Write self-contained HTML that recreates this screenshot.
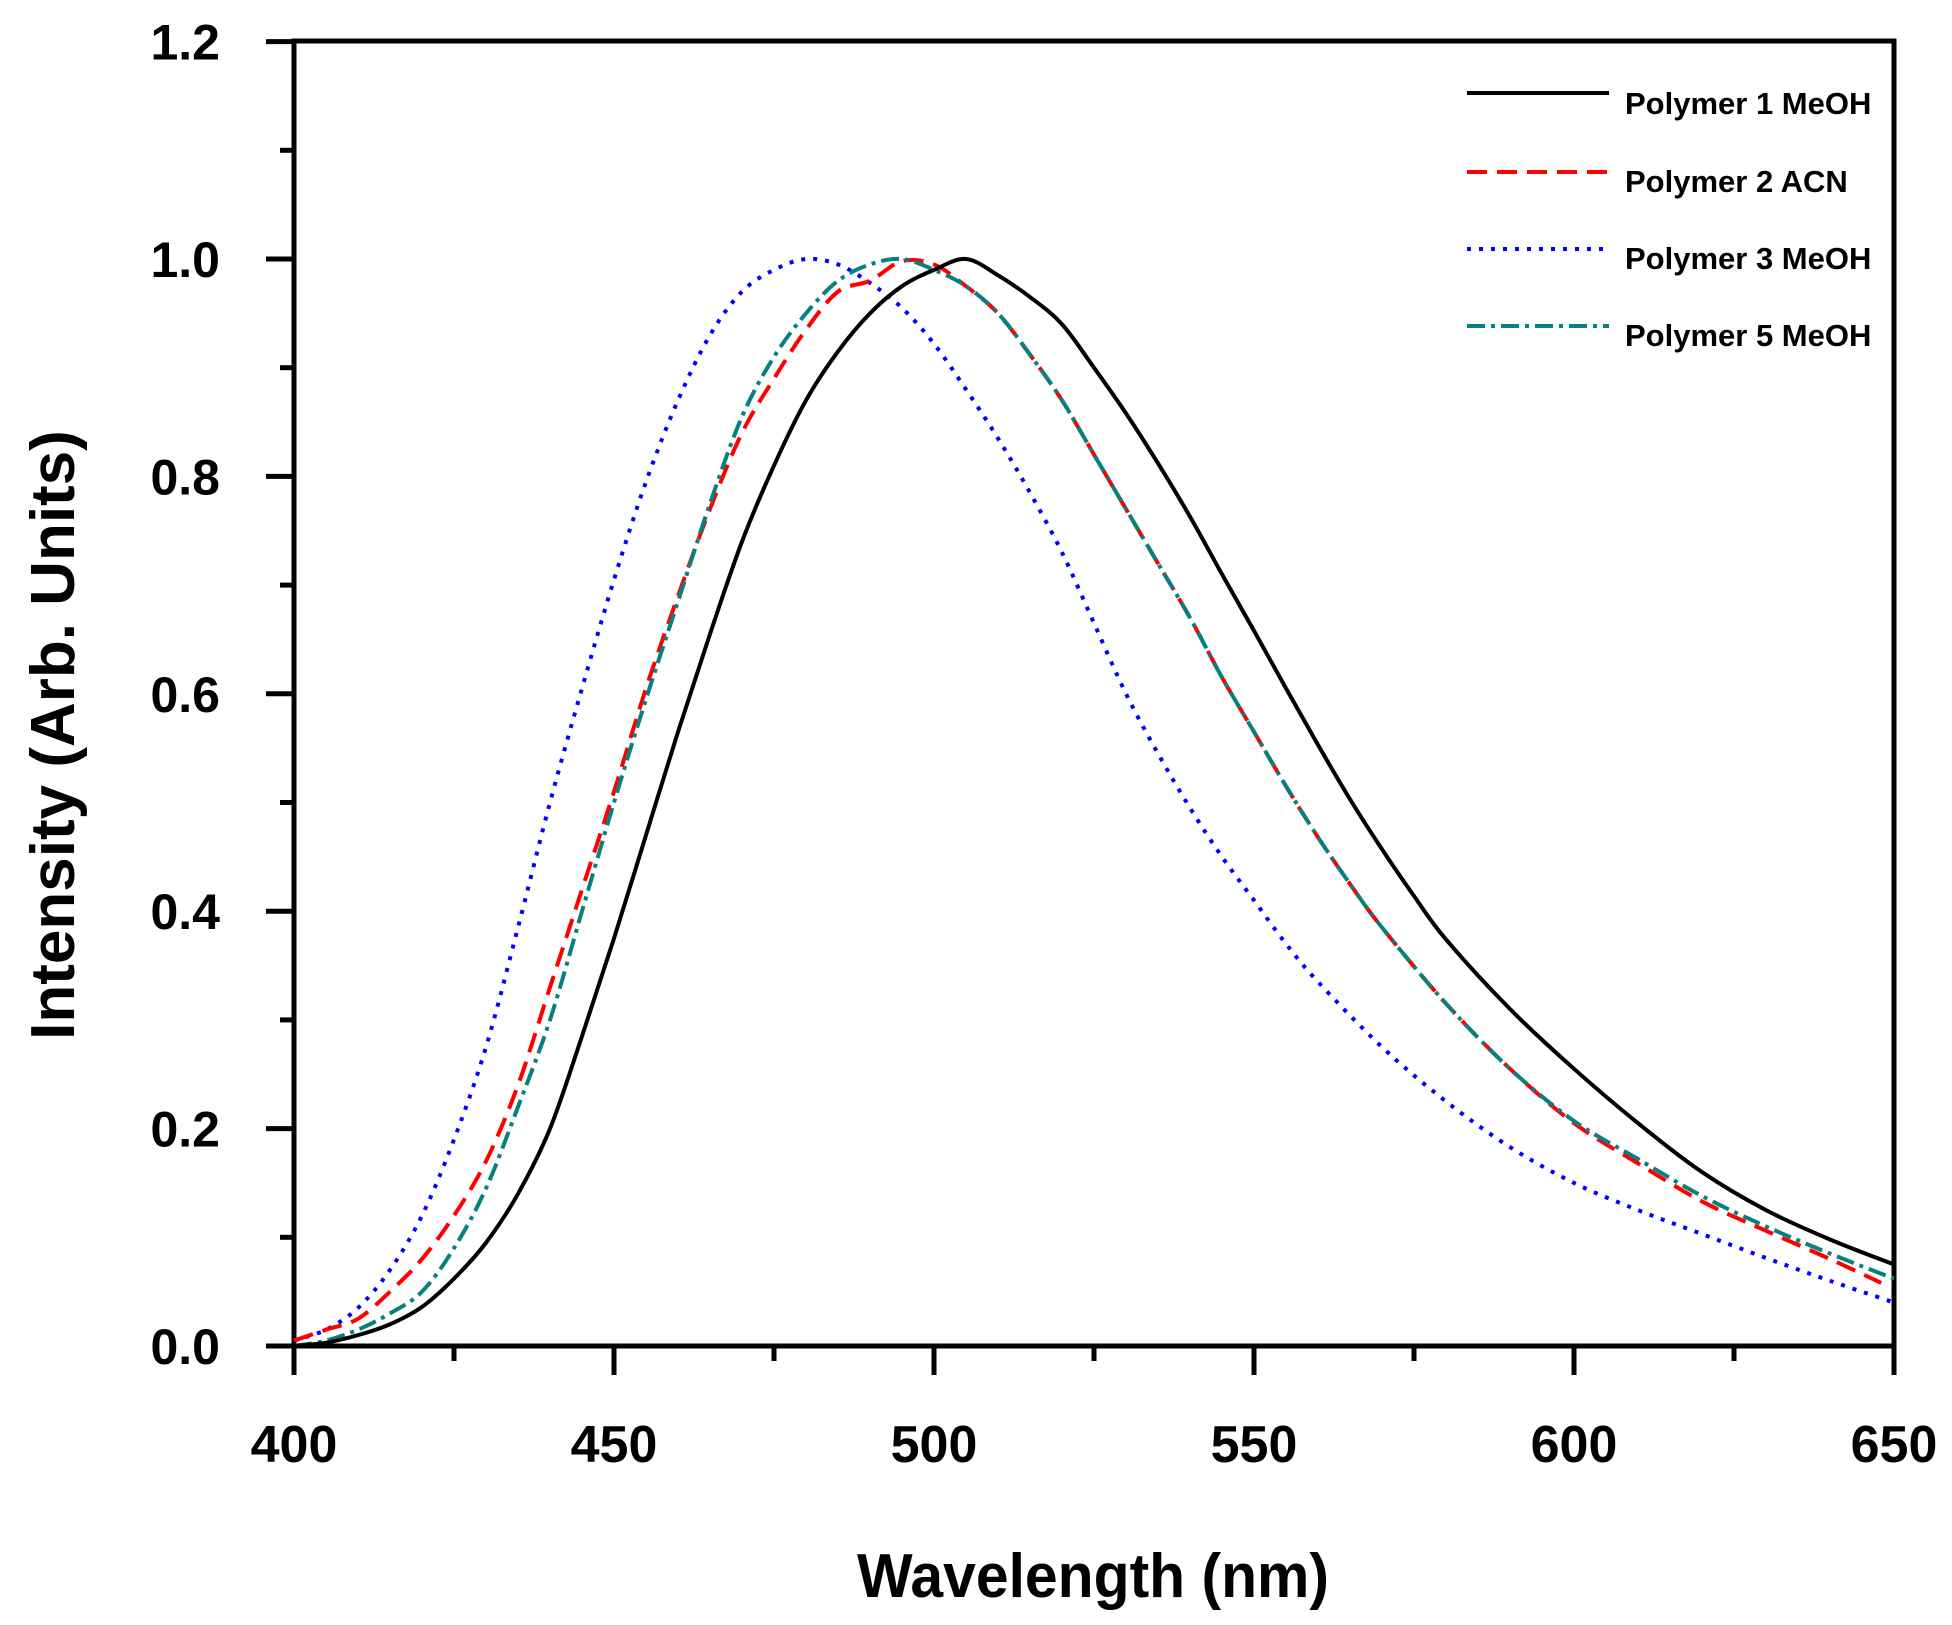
<!DOCTYPE html>
<html><head><meta charset="utf-8"><style>
html,body{margin:0;padding:0;background:#fff;}
svg{display:block;}
text{font-family:"Liberation Sans Narrow","Liberation Sans",sans-serif;font-weight:bold;fill:#000;}
</style></head><body>
<svg id="s" width="1952" height="1625" viewBox="0 0 1952 1625" xmlns="http://www.w3.org/2000/svg">
<rect x="294" y="41" width="1600" height="1305" fill="none" stroke="#000" stroke-width="5"/>
<g id="ticks" stroke="#000" stroke-width="5"></g>
<g id="labels" font-size="50"></g>
<text x="1093" y="1597" font-size="62" text-anchor="middle" textLength="472" lengthAdjust="spacingAndGlyphs">Wavelength (nm)</text>
<text transform="translate(74,735) rotate(-90)" font-size="62" text-anchor="middle">Intensity (Arb. Units)</text>
<g id="curves" fill="none" stroke-width="4"></g>
<g font-size="31">
<line x1="1467" y1="93" x2="1609" y2="93" stroke="#000" stroke-width="4"/>
<text x="1625" y="114">Polymer 1 MeOH</text>
<line x1="1467" y1="172" x2="1609" y2="172" stroke="#f00" stroke-width="4" stroke-dasharray="20 10"/>
<text x="1625" y="192">Polymer 2 ACN</text>
<line x1="1467" y1="249" x2="1609" y2="249" stroke="#00f" stroke-width="4" stroke-dasharray="4 8"/>
<text x="1625" y="269">Polymer 3 MeOH</text>
<line x1="1467" y1="326" x2="1609" y2="326" stroke="#088080" stroke-width="4" stroke-dasharray="18 6 4 6"/>
<text x="1625" y="346">Polymer 5 MeOH</text>
</g>
</svg>
<script>
var NS="http://www.w3.org/2000/svg";
function X(w){return 294+(w-400)*6.4;}
function Y(v){return 1346-v*1087;}
var t=document.getElementById('ticks'),L=document.getElementById('labels');
function el(p,tag,a,txt){var e=document.createElementNS(NS,tag);for(var k in a)e.setAttribute(k,a[k]);if(txt)e.textContent=txt;p.appendChild(e);return e;}
for(var i=0;i<=12;i++){var y=Y(i/10);el(t,'line',{x1:i%2?280:266,x2:294,y1:y,y2:y});
 if(i%2==0)el(L,'text',{x:220,y:y+18,'text-anchor':'end'},(i/10).toFixed(1));}
for(var w=400;w<=650;w+=25){var x=X(w);el(t,'line',{x1:x,x2:x,y1:1346,y2:w%50?1361:1375});
 if(w%50==0)el(L,'text',{x:x,y:1462,'text-anchor':'middle','font-size':52},w);}
function mk(pts,col,dash){
 var P=pts.map(function(p){return [X(p[0]),Y(p[1])];});var d='M'+P[0][0]+' '+P[0][1];
 for(var i=0;i<P.length-1;i++){var p0=P[Math.max(0,i-1)],p1=P[i],p2=P[i+1],p3=P[Math.min(P.length-1,i+2)];
  d+=' C'+(p1[0]+(p2[0]-p0[0])/6)+' '+(p1[1]+(p2[1]-p0[1])/6)+' '+(p2[0]-(p3[0]-p1[0])/6)+' '+(p2[1]-(p3[1]-p1[1])/6)+' '+p2[0]+' '+p2[1];}
 var a={d:d,stroke:col};if(dash)a['stroke-dasharray']=dash;el(document.getElementById('curves'),'path',a);}
function S(o){var r=[];for(var k in o)r.push([+k,o[k]]);r.sort(function(a,b){return a[0]-b[0]});return r;}
var black=S({400:0,405:0.003,410:0.01,415:0.02,420:0.036,425:0.062,430:0.095,435:0.14,440:0.2,445:0.285,450:0.375,455:0.47,460:0.565,465:0.655,470:0.74,475:0.81,480:0.87,485:0.915,490:0.95,495:0.975,500:0.99,505:1.0,510:0.985,515:0.965,520:0.94,525:0.9,530:0.858,535:0.812,540:0.763,545:0.71,550:0.658,555:0.605,560:0.553,565:0.503,570:0.457,575:0.414,580:0.374,590:0.31,600:0.255,610:0.205,620:0.16,630:0.125,640:0.098,650:0.075});
var red=S({400:0.005,405:0.015,410:0.025,415:0.05,420:0.08,425:0.12,430:0.17,435:0.24,440:0.33,445:0.42,450:0.51,455:0.605,460:0.69,465:0.77,470:0.84,475:0.89,480:0.935,485:0.97,490:0.98,495:0.998,500:0.995,505:0.975,510:0.95,515:0.912,520:0.87,525:0.82,530:0.77,535:0.72,540:0.67,545:0.615,550:0.565,555:0.515,560:0.468,565:0.425,570:0.385,580:0.315,590:0.255,600:0.205,610:0.168,620:0.133,630:0.106,640:0.08,648:0.058});
var blue=S({400:0.005,405:0.015,410:0.035,415:0.07,420:0.12,425:0.19,430:0.275,435:0.385,440:0.5,445:0.605,450:0.705,455:0.795,460:0.87,465:0.93,470:0.97,475:0.99,480:1.0,485:0.995,490:0.978,495:0.955,500:0.922,505:0.88,510:0.835,515:0.785,520:0.73,525:0.665,530:0.6,535:0.545,540:0.495,545:0.45,550:0.41,555:0.37,560:0.335,570:0.275,580:0.225,590:0.183,600:0.15,610:0.125,620:0.103,630:0.081,640:0.06,650:0.04});
var teal=S({400:0.0,405:0.005,410:0.015,415:0.03,420:0.05,425:0.09,430:0.145,435:0.22,440:0.3,445:0.4,450:0.5,455:0.595,460:0.685,465:0.775,470:0.855,475:0.91,480:0.95,485:0.98,490:0.995,495:1.0,500:0.99,505:0.975,510:0.95,515:0.912,520:0.87,525:0.82,530:0.77,535:0.72,540:0.67,545:0.615,550:0.565,555:0.515,560:0.468,565:0.425,570:0.385,580:0.315,590:0.255,600:0.207,610:0.172,620:0.138,630:0.11,640:0.085,650:0.062});
mk(blue,'#00f','4 8');mk(red,'#f00','20 10');mk(teal,'#088080','18 6 4 6');mk(black,'#000');
</script>
</body></html>
